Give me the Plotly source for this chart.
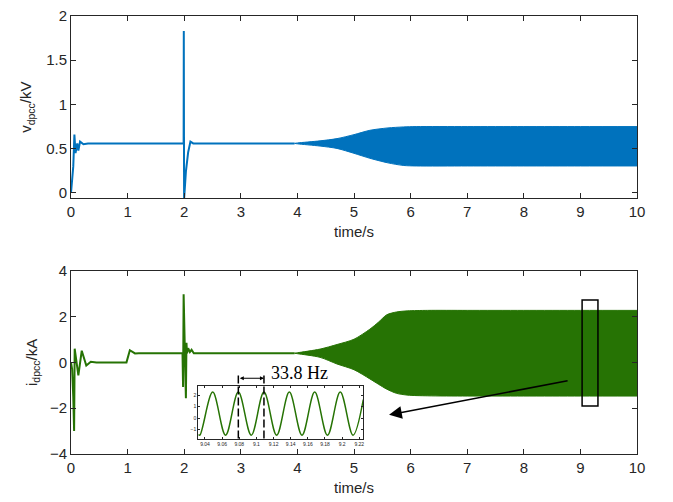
import plotly.graph_objects as go

# ---------------- data ----------------
# top panel: v_dpcc (kV) transient part
t_v = [0, 0.02, 0.04, 0.06, 0.08, 0.11, 0.13, 0.16, 0.22, 0.3, 1.99, 1.993, 1.998, 2.03, 2.07, 2.11, 2.16, 3.95]
v_v = [0.0, 0.12, 0.3, 0.66, 0.45, 0.56, 0.48, 0.58, 0.55, 0.56, 0.56, 1.83, -0.07, 0.24, 0.46, 0.58, 0.56, 0.56]
# top panel: oscillation envelope (band is visually solid)
t_env_v = [3.95, 4.0, 4.4, 4.7, 5.0, 5.28, 5.6, 5.87, 6.1, 7.0, 8.0, 9.0, 10.0]
v_upper = [0.56, 0.565, 0.589, 0.614, 0.659, 0.708, 0.735, 0.746, 0.75, 0.75, 0.75, 0.75, 0.75]
v_lower = [0.56, 0.555, 0.53, 0.503, 0.448, 0.392, 0.34, 0.311, 0.305, 0.305, 0.305, 0.305, 0.305]

# bottom panel: i_dpcc (kA) transient part
t_i = [0, 0.02, 0.04, 0.055, 0.065, 0.13, 0.19, 0.27, 0.35, 0.45, 0.98, 1.04, 1.13, 1.2,
       1.97, 1.98, 1.99, 2.03, 2.04, 2.05, 2.07, 2.1, 2.13, 2.17, 2.3, 3.95]
i_v = [0.0, -0.3, -1.5, -3.0, 0.6, -0.57, 0.51, -0.14, 0.03, 0.0, 0.0, 0.53, 0.39, 0.4,
       0.4, -1.07, 2.97, -1.57, 0.86, 0.4, 0.62, 0.45, 0.55, 0.4, 0.4, 0.4]
# bottom panel: oscillation envelope
t_env_i = [3.95, 4.0, 4.4, 4.7, 5.0, 5.28, 5.43, 5.58, 5.75, 5.95, 6.3, 7.0, 8.0, 9.0, 10.0]
i_upper = [0.4, 0.42, 0.58, 0.78, 1.01, 1.45, 1.75, 2.08, 2.2, 2.25, 2.27, 2.27, 2.27, 2.27, 2.27]
i_lower = [0.4, 0.38, 0.22, -0.07, -0.32, -0.72, -0.95, -1.17, -1.35, -1.43, -1.46, -1.47, -1.47, -1.47, -1.47]

# inset: zoomed current waveform (extrema)
t_zoom = [9.0322, 9.034, 9.049, 9.064, 9.0789, 9.094, 9.1088, 9.1236, 9.1384, 9.1532,
          9.168, 9.1829, 9.1978, 9.2127, 9.2247]
i_zoom = [-1.45, -1.5, 2.27, -1.5, 2.27, -1.5, 2.27, -1.5, 2.27, -1.5, 2.27, -1.5, 2.27, -1.5, 1.62]
zoom_ticks = [9.04, 9.06, 9.08, 9.1, 9.12, 9.14, 9.16, 9.18, 9.2, 9.22]
zoom_ticklabels = ["9.04", "9.06", "9.08", "9.1", "9.12", "9.14", "9.16", "9.18", "9.2", "9.22"]
zoom_marks = [9.0789, 9.1088]          # dashed period markers
freq_label = "33.8 Hz"
zoom_box = [9.03, 9.31, -1.9, 2.72]    # rectangle on main plot

BLUE = "#0072BD"
GREEN = "#267304"
AX = "#262626"

fig = go.Figure()

# top
fig.add_trace(go.Scatter(x=t_v, y=v_v, mode="lines", line=dict(color=BLUE, width=2),
                         xaxis="x", yaxis="y", showlegend=False))
fig.add_trace(go.Scatter(x=t_env_v, y=v_lower, mode="lines", line=dict(color=BLUE, width=1, shape="spline", smoothing=0.8),
                         xaxis="x", yaxis="y", showlegend=False))
fig.add_trace(go.Scatter(x=t_env_v, y=v_upper, mode="lines", line=dict(color=BLUE, width=1, shape="spline", smoothing=0.8),
                         fill="tonexty", fillcolor=BLUE, xaxis="x", yaxis="y", showlegend=False))
# bottom
fig.add_trace(go.Scatter(x=t_i, y=i_v, mode="lines", line=dict(color=GREEN, width=2),
                         xaxis="x2", yaxis="y2", showlegend=False))
fig.add_trace(go.Scatter(x=t_env_i, y=i_lower, mode="lines", line=dict(color=GREEN, width=1, shape="spline", smoothing=0.8),
                         xaxis="x2", yaxis="y2", showlegend=False))
fig.add_trace(go.Scatter(x=t_env_i, y=i_upper, mode="lines", line=dict(color=GREEN, width=1, shape="spline", smoothing=0.8),
                         fill="tonexty", fillcolor=GREEN, xaxis="x2", yaxis="y2", showlegend=False))
# inset
fig.add_trace(go.Scatter(x=t_zoom, y=i_zoom, mode="lines", line=dict(color=GREEN, width=1.5, shape="spline"),
                         xaxis="x3", yaxis="y3", showlegend=False))

W, H = 673, 502
L, R, T, B = 71, 36, 7, 48
PW, PH = W - L - R, H - T - B

def px_to_paper_y(py):
    return (H - B - py) / PH

top_dom = [px_to_paper_y(193), 1.0]
bot_dom = [0.0, px_to_paper_y(267)]
ins_x_dom = [(198.3 - L) / PW, (363.3 - L) / PW]
ins_y_dom = [px_to_paper_y(438.3), px_to_paper_y(384.3)]
ins_x_rng = [9.0322, 9.2247]
ins_y_rng = [-1.8, 2.83]

def ins_paper_x(v):
    return ins_x_dom[0] + (v - ins_x_rng[0]) / (ins_x_rng[1] - ins_x_rng[0]) * (ins_x_dom[1] - ins_x_dom[0])

tickfont = dict(family="Liberation Sans, Arial", size=15, color=AX)
titlefont = dict(family="Liberation Sans, Arial", size=15, color=AX)
common = dict(showline=True, linecolor=AX, linewidth=1, mirror="ticks", ticks="inside",
              ticklen=5, tickcolor=AX, tickwidth=1, showgrid=False, zeroline=False,
              tickfont=tickfont)

fig.update_layout(
    width=W, height=H, margin=dict(l=L, r=R, t=T, b=B),
    paper_bgcolor="white", plot_bgcolor="white",
    xaxis=dict(domain=[0, 1], range=[0, 10], tickvals=list(range(11)), anchor="y",
               title=dict(text="time/s", font=titlefont, standoff=7), **common),
    yaxis=dict(domain=top_dom, range=[-0.06, 2.0], tickvals=[0, 0.5, 1, 1.5, 2],
               ticktext=["0", "0.5", "1", "1.5", "2"], anchor="x",
               title=dict(text="v<sub>dpcc</sub>/kV", font=titlefont, standoff=10), **common),
    xaxis2=dict(domain=[0, 1], range=[0, 10], tickvals=list(range(11)), anchor="y2",
                title=dict(text="time/s", font=titlefont, standoff=7), **common),
    yaxis2=dict(domain=bot_dom, range=[-4, 4], tickvals=[-4, -2, 0, 2, 4], anchor="x2",
                title=dict(text="i<sub>dpcc</sub>/kA", font=titlefont, standoff=8), **common),
    xaxis3=dict(domain=ins_x_dom, range=ins_x_rng, tickvals=zoom_ticks, ticktext=zoom_ticklabels,
                anchor="y3", showline=True, linecolor=AX, linewidth=1, mirror="ticks", ticks="inside",
                ticklen=2, tickcolor=AX, showgrid=False, zeroline=False,
                tickfont=dict(family="Liberation Sans, Arial", size=5, color=AX)),
    yaxis3=dict(domain=ins_y_dom, range=ins_y_rng, tickvals=[-1, 0, 1, 2], anchor="x3",
                showline=True, linecolor=AX, linewidth=1, mirror="ticks", ticks="inside",
                ticklen=2, tickcolor=AX, showgrid=False, zeroline=False,
                tickfont=dict(family="Liberation Sans, Arial", size=5, color=AX)),
)

shapes = []
# rectangle marking zoom region
shapes.append(dict(type="rect", xref="x2", yref="y2", x0=zoom_box[0], x1=zoom_box[1],
                   y0=zoom_box[2], y1=zoom_box[3], line=dict(color="black", width=1.5)))
# dashed period markers
for m in zoom_marks:
    shapes.append(dict(type="line", xref="paper", yref="paper", x0=ins_paper_x(m), x1=ins_paper_x(m),
                       y0=ins_y_dom[0], y1=px_to_paper_y(371.7),
                       line=dict(color="black", width=1.5, dash="8px,3px")))
fig.update_layout(shapes=shapes)

ann = []
# big arrow to inset
ann.append(dict(xref="x2", yref="y2", axref="x2", ayref="y2", x=5.62, y=-2.29, ax=8.80, ay=-0.79,
                showarrow=True, arrowhead=2, arrowsize=1.7, arrowwidth=1.5, arrowcolor="black", text=""))
# period double arrow
x_a, x_b = ins_paper_x(zoom_marks[0]), ins_paper_x(zoom_marks[1])
ann.append(dict(xref="paper", yref="paper", x=x_b, y=px_to_paper_y(376.7),
                ax=-(x_b - x_a) * PW, ay=0, axref="pixel", ayref="pixel",
                showarrow=True, arrowhead=2, startarrowhead=2, arrowside="end+start",
                arrowsize=0.8, startarrowsize=0.8, arrowwidth=1, arrowcolor="black", text="",
                standoff=0, startstandoff=0))
ann.append(dict(xref="paper", yref="paper", x=(299 - L) / PW, y=px_to_paper_y(371),
                text=freq_label, showarrow=False, xanchor="center", yanchor="middle",
                font=dict(family="Liberation Serif, Times New Roman", size=18, color="black")))
fig.update_layout(annotations=ann)

fig.write_html("out.html")
